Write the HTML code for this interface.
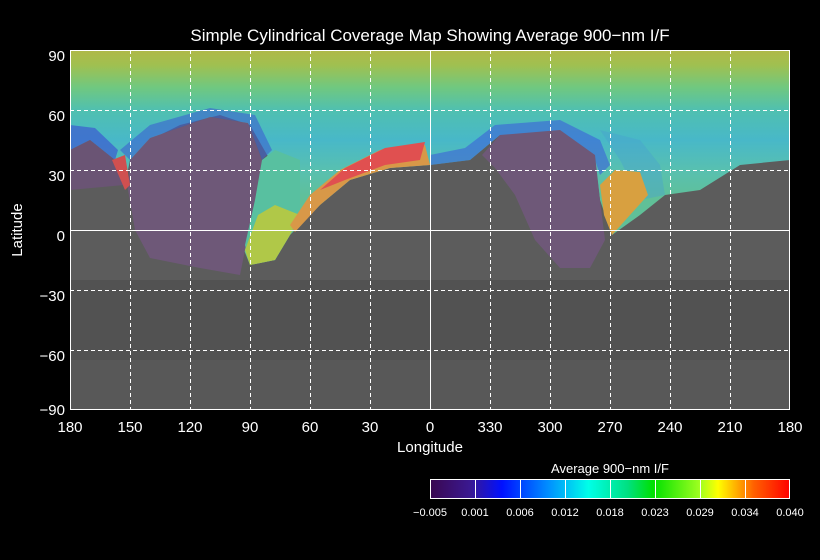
<!DOCTYPE html>
<html><head><meta charset="utf-8"><style>
html,body{margin:0;padding:0;background:#000;}
svg{display:block;font-family:"Liberation Sans",sans-serif;}
</style></head><body>
<svg width="820" height="560" viewBox="0 0 820 560" xmlns="http://www.w3.org/2000/svg">
<defs>
<linearGradient id="top" x1="0" y1="50" x2="0" y2="200" gradientUnits="userSpaceOnUse">
<stop offset="0" stop-color="#b0b848"/>
<stop offset="0.1" stop-color="#a0c050"/>
<stop offset="0.25" stop-color="#70c880"/>
<stop offset="0.4" stop-color="#50c0b0"/>
<stop offset="0.6" stop-color="#48b8c8"/>
<stop offset="0.8" stop-color="#58c0b0"/>
<stop offset="1" stop-color="#60c098"/>
</linearGradient>
<linearGradient id="cb" x1="430" y1="0" x2="790" y2="0" gradientUnits="userSpaceOnUse">
<stop offset="0" stop-color="#3a0850"/>
<stop offset="0.11" stop-color="#3a1890"/>
<stop offset="0.2" stop-color="#0010ff"/>
<stop offset="0.33" stop-color="#0090ff"/>
<stop offset="0.44" stop-color="#00ffe8"/>
<stop offset="0.55" stop-color="#00e080"/>
<stop offset="0.62" stop-color="#00e000"/>
<stop offset="0.75" stop-color="#a0ff20"/>
<stop offset="0.8" stop-color="#ffff00"/>
<stop offset="0.9" stop-color="#ff6000"/>
<stop offset="1" stop-color="#ff0000"/>
</linearGradient>
</defs>
<rect x="70" y="50" width="720" height="360" fill="#5c5c5c"/>
<rect x="70" y="280" width="720" height="130" fill="#525252"/>
<rect x="70" y="360" width="720" height="50" fill="#585858"/>
<path d="M70,50 L790,50 L790,160 L740,165 L700,190 L665,195 L640,215 L612,235 L600,200 L595,160 L560,135 L500,135 L470,160 L430,165 L390,168 L350,180 L320,205 L290,235 L275,260 L250,265 L240,240 L260,200 L270,160 L250,125 L220,115 L180,125 L150,140 L130,160 L125,185 L115,160 L90,140 L70,150 Z" fill="url(#top)"/>
<path d="M120,150 L150,125 L210,108 L255,115 L272,150 L262,160 L248,123 L210,117 L150,138 L130,160 Z" fill="#3c60d0" opacity="0.6"/>
<path d="M70,125 L95,128 L118,150 L115,160 L90,140 L70,150 Z" fill="#3c5ad0" opacity="0.7"/>
<path d="M430,155 L465,148 L495,125 L560,120 L600,140 L610,165 L600,175 L595,160 L560,135 L500,135 L470,160 L430,165 Z" fill="#3c60d8" opacity="0.6"/>
<path d="M600,130 L640,140 L660,165 L665,195 L640,200 L620,160 Z" fill="#48a0d0" opacity="0.4"/>
<path d="M130,160 L150,138 L210,117 L248,123 L262,160 L255,200 L245,250 L240,275 L200,268 L150,258 L135,230 L128,190 Z" fill="#6e5878"/>
<path d="M70,150 L90,140 L115,160 L124,185 L70,190 Z" fill="#6a5474"/>
<path d="M482,155 L500,135 L560,130 L595,155 L600,200 L605,240 L590,268 L560,268 L535,240 L515,195 L495,168 Z" fill="#6e5878"/>
<path d="M262,160 L275,150 L300,160 L300,215 L290,235 L275,260 L250,265 L245,245 L255,200 Z" fill="#58c0a0"/>
<path d="M245,250 L258,215 L275,205 L300,215 L290,235 L275,260 L250,265 Z" fill="#b0c848"/>
<path d="M290,225 L310,195 L340,170 L380,150 L425,145 L430,165 L390,168 L350,180 L320,205 L295,232 Z" fill="#d89848"/>
<path d="M320,190 L345,168 L385,148 L425,142 L420,160 L385,165 L345,180 Z" fill="#e05050"/>
<path d="M600,185 L615,170 L640,172 L648,195 L630,215 L612,235 L604,215 Z" fill="#d8a040"/>
<path d="M112,160 L125,155 L130,185 L125,190 Z" fill="#d05050"/>
<g stroke="#fff" stroke-width="1" stroke-dasharray="4,3">
<line x1="130.5" y1="50" x2="130.5" y2="410"/><line x1="190.5" y1="50" x2="190.5" y2="410"/>
<line x1="250.5" y1="50" x2="250.5" y2="410"/><line x1="310.5" y1="50" x2="310.5" y2="410"/>
<line x1="370.5" y1="50" x2="370.5" y2="410"/>
<line x1="490.5" y1="50" x2="490.5" y2="410"/><line x1="550.5" y1="50" x2="550.5" y2="410"/>
<line x1="610.5" y1="50" x2="610.5" y2="410"/><line x1="670.5" y1="50" x2="670.5" y2="410"/>
<line x1="730.5" y1="50" x2="730.5" y2="410"/>
<line x1="70" y1="110.5" x2="790" y2="110.5"/><line x1="70" y1="170.5" x2="790" y2="170.5"/>
<line x1="70" y1="290.5" x2="790" y2="290.5"/><line x1="70" y1="350.5" x2="790" y2="350.5"/>
</g>
<g stroke="#fff" stroke-width="1">
<line x1="430.5" y1="50" x2="430.5" y2="410"/>
<line x1="70" y1="230.5" x2="790" y2="230.5"/>
<rect x="70.5" y="50.5" width="719" height="359" fill="none"/>
</g>
<g fill="#fff" font-size="15">
<text x="430" y="41" text-anchor="middle" font-size="17">Simple Cylindrical Coverage Map Showing Average 900−nm I/F</text>
<g text-anchor="end">
<text x="65" y="61">90</text><text x="65" y="121">60</text><text x="65" y="181">30</text>
<text x="65" y="241">0</text><text x="65" y="301">−30</text><text x="65" y="361">−60</text><text x="65" y="415">−90</text>
</g>
<g text-anchor="middle">
<text x="70" y="432">180</text><text x="130" y="432">150</text><text x="190" y="432">120</text>
<text x="250" y="432">90</text><text x="310" y="432">60</text><text x="370" y="432">30</text>
<text x="430" y="432">0</text><text x="490" y="432">330</text><text x="550" y="432">300</text>
<text x="610" y="432">270</text><text x="670" y="432">240</text><text x="730" y="432">210</text>
<text x="790" y="432">180</text>
<text x="430" y="452">Longitude</text>
<text x="610" y="473" font-size="13">Average 900−nm I/F</text>
</g>
<text transform="translate(22,230) rotate(-90)" text-anchor="middle">Latitude</text>
</g>
<rect x="430.5" y="479.5" width="359" height="19" fill="url(#cb)" stroke="#fff"/>
<g stroke="#fff"><line x1="475.5" y1="480" x2="475.5" y2="498"/><line x1="520.5" y1="480" x2="520.5" y2="498"/><line x1="565.5" y1="480" x2="565.5" y2="498"/><line x1="610.5" y1="480" x2="610.5" y2="498"/><line x1="655.5" y1="480" x2="655.5" y2="498"/><line x1="700.5" y1="480" x2="700.5" y2="498"/><line x1="745.5" y1="480" x2="745.5" y2="498"/></g>
<g fill="#fff" font-size="11" text-anchor="middle">
<text x="430" y="516">−0.005</text><text x="475" y="516">0.001</text><text x="520" y="516">0.006</text>
<text x="565" y="516">0.012</text><text x="610" y="516">0.018</text><text x="655" y="516">0.023</text>
<text x="700" y="516">0.029</text><text x="745" y="516">0.034</text><text x="790" y="516">0.040</text>
</g>
</svg>
</body></html>
